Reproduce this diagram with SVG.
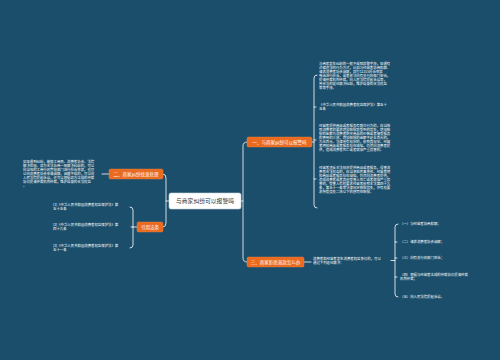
<svg xmlns="http://www.w3.org/2000/svg" width="500" height="360" viewBox="0 0 500 360">
<style>
.bg{fill:#1b4e6b}
.main rect{fill:#ea6a1f;stroke:#f08a4a;stroke-width:0.4}
.main text{fill:#ffffff;font-family:"Noto Sans CJK SC","Noto Sans",sans-serif;font-size:4.5px;text-anchor:middle}
.root rect{fill:#ffffff;stroke:#c9d3da;stroke-width:0.6}
.root text{fill:#333333;font-family:"Noto Sans CJK SC","Noto Sans",sans-serif;font-size:5.8px;text-anchor:middle}
.leaf text{fill:#ffffff;font-family:"Noto Sans CJK SC","Noto Sans",sans-serif;font-size:3.4px}
.conn path{fill:none;stroke:#ffffff;stroke-width:0.8;stroke-linecap:round}
</style>
<rect class="bg" x="0" y="0" width="500" height="360"/>
<g id="connectors" class="conn">
<!-- root to right -->
<path d="M241,201 H243"/>
<path d="M247,142 Q243,142 243,146 V258 Q243,262 247,262"/>
<!-- root to left -->
<path d="M169,201 H166"/>
<path d="M163,174 Q166,174 166,178 V223 Q166,227 163,227"/>
<!-- right top brace -->
<path d="M312,142 H314"/>
<path d="M317,75 Q314,75 314,78 V205 Q314,208 317,208"/>
<path d="M314,107 H316"/>
<path d="M314,140 H316"/>
<path d="M314,179 H316"/>
<!-- bottom right -->
<path d="M304,262 H311"/>
<path d="M391,260.5 H395"/>
<path d="M398,224 Q395,224 395,227 V294 Q395,297 398,297"/>
<path d="M395,242 H397"/>
<path d="M395,258 H397"/>
<path d="M395,277 H397"/>
<!-- left top -->
<path d="M102,174 H109"/>
<!-- left bottom brace -->
<path d="M137,227 H133"/>
<path d="M130,207 Q133,207 133,210 V245 Q133,248 130,248"/>
<path d="M133,227 H131"/>
</g>
<g id="root" class="root">
<rect x="169" y="193" width="72" height="16" rx="2"/>
<text x="205" y="203.2">与商家纠纷可以报警吗</text>
</g>
<g id="n1" class="main">
<rect x="247" y="137" width="65" height="10" rx="1.5"/>
<text x="279.5" y="143.6">一、与商家纠纷可以报警吗</text>
</g>
<g id="n3" class="main">
<rect x="247" y="257" width="57" height="10" rx="1.5"/>
<text x="275.5" y="263.6">三、商家拒绝退款怎么办</text>
</g>
<g id="n2" class="main">
<rect x="109" y="169" width="54" height="10" rx="1.5"/>
<text x="136" y="175.6">二、商家纠纷找谁处理</text>
</g>
<g id="n4" class="main">
<rect x="137" y="222" width="26" height="10" rx="1.5"/>
<text x="150" y="228.6">引用法条</text>
</g>
<g id="n1-1" class="leaf">
<text x="319" y="65"><tspan x="319" dy="0">与商家发生纠纷的一般不采取报警手段，但遇有</tspan><tspan x="319" dy="4">诈骗违法的行为方式，比如与经营者协商和解、</tspan><tspan x="319" dy="4">请求消费者协会调解，拨打12315投诉举报</tspan><tspan x="319" dy="4">电话进行投诉，或者依法向有关行政部门申诉，</tspan><tspan x="319" dy="4">提请仲裁机构仲裁，向人民法院提起诉讼等，</tspan><tspan x="319" dy="4">用合法的途径解决纠纷，维护自身的合法权益</tspan><tspan x="319" dy="4">等等手段。</tspan></text>
</g>
<g id="n1-2" class="leaf">
<text x="319" y="106"><tspan x="319" dy="0">《中华人民共和国消费者权益保护法》第五十</tspan><tspan x="319" dy="4">五条</tspan></text>
</g>
<g id="n1-3" class="leaf">
<text x="319" y="127"><tspan x="319" dy="0">经营者提供商品或者服务有欺诈行为的，应当按</tspan><tspan x="319" dy="4">照消费者的要求增加赔偿其受到的损失，增加赔</tspan><tspan x="319" dy="4">偿的金额为消费者购买商品的价款或者接受服务</tspan><tspan x="319" dy="4">的费用的三倍；增加赔偿的金额不足五百元的，</tspan><tspan x="319" dy="4">为五百元。法律另有规定的，依照其规定。经营</tspan><tspan x="319" dy="4">者明知商品或者服务存在缺陷，仍然向消费者提</tspan><tspan x="319" dy="4">供，造成消费者死亡或者健康严重损害的。</tspan></text>
</g>
<g id="n1-4" class="leaf">
<text x="319" y="169"><tspan x="319" dy="0">经营者违反本法规定提供商品或者服务，侵害消</tspan><tspan x="319" dy="4">费者合法权益的，应当承担民事责任。经营者明</tspan><tspan x="319" dy="4">知商品或者服务存在缺陷，仍然向消费者提供，</tspan><tspan x="319" dy="4">造成消费者或者其他受害人死亡或者健康严重损</tspan><tspan x="319" dy="4">害的，受害人有权要求经营者依照本法第四十九</tspan><tspan x="319" dy="4">条、第五十一条等法律规定赔偿损失，并有权要</tspan><tspan x="319" dy="4">求所受损失二倍以下的惩罚性赔偿。</tspan></text>
</g>
<g id="n3-1" class="leaf">
<text x="313" y="260"><tspan x="313" dy="0">消费者和经营者发生消费者权益争议的，可以</tspan><tspan x="313" dy="4">通过下列途径解决：</tspan></text>
</g>
<g id="n3-1-1" class="leaf"><text x="400" y="225.3">（一）与经营者协商和解；</text></g>
<g id="n3-1-2" class="leaf"><text x="400" y="243.3">（二）请求消费者协会调解；</text></g>
<g id="n3-1-3" class="leaf"><text x="400" y="259.3">（三）向有关行政部门申诉；</text></g>
<g id="n3-1-4" class="leaf"><text x="400" y="276.3"><tspan x="400" dy="0">（四）根据与经营者达成的仲裁协议提请仲裁</tspan><tspan x="400" dy="4">机构仲裁；</tspan></text></g>
<g id="n3-1-5" class="leaf"><text x="400" y="298.3">（五）向人民法院提起诉讼。</text></g>
<g id="n2-1" class="leaf">
<text x="23" y="163"><tspan x="23" dy="0">如果遇到纠纷，能够工商局、消费者协会、法院</tspan><tspan x="23" dy="4">解决处理。双方无法协商一致解决纠纷的，可以</tspan><tspan x="23" dy="4">向当地的工商行政管理部门进行投诉举报，也可</tspan><tspan x="23" dy="4">以向消费者协会申请调解，调解不成的，可以向</tspan><tspan x="23" dy="4">人民法院提起诉讼，还可以根据双方达成的仲裁</tspan><tspan x="23" dy="4">协议提请仲裁机构仲裁，维护自身的合法权益</tspan><tspan x="23" dy="4">。</tspan></text>
</g>
<g id="n4-1" class="leaf">
<text x="53" y="206"><tspan x="53" dy="0">[1]《中华人民共和国消费者权益保护法》第</tspan><tspan x="53" dy="4">五十五条</tspan></text>
</g>
<g id="n4-2" class="leaf">
<text x="53" y="226"><tspan x="53" dy="0">[2]《中华人民共和国消费者权益保护法》第</tspan><tspan x="53" dy="4">四十九条</tspan></text>
</g>
<g id="n4-3" class="leaf">
<text x="53" y="247"><tspan x="53" dy="0">[3]《中华人民共和国消费者权益保护法》第</tspan><tspan x="53" dy="4">五十一条</tspan></text>
</g>
</svg>
